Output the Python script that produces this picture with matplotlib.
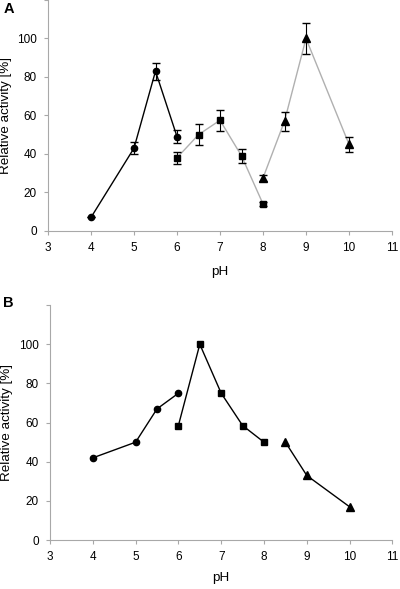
import matplotlib.pyplot as plt
import numpy as np

plt.rcParams['font.family'] = ['Liberation Sans', 'DejaVu Sans']
plt.rcParams['font.size'] = 9

# Panel A data
a_ph_circ = [4, 5, 5.5, 6]
a_act_circ = [7, 43, 83, 49]
a_err_circ = [0, 3, 4.5, 3.5]
a_ph_sq = [6, 6.5, 7, 7.5, 8]
a_act_sq = [38, 50, 57.5, 39, 14]
a_err_sq = [3, 5.5, 5.5, 3.5, 1]
a_ph_tri = [8, 8.5, 9, 10]
a_act_tri = [27.5, 57, 100, 45]
a_err_tri = [1.5, 5, 8, 4]

# Panel B data
b_ph_circ = [4, 5, 5.5, 6]
b_act_circ = [42, 50, 67, 75]
b_ph_sq = [6, 6.5, 7, 7.5, 8]
b_act_sq = [58.5, 100, 75, 58.5, 50]
b_ph_tri = [8.5, 9, 10]
b_act_tri = [50, 33, 17]

fig = plt.figure(figsize=(4, 5.89), dpi=100)
axA = fig.add_axes([0.12, 0.608, 0.86, 0.392])
axB = fig.add_axes([0.125, 0.083, 0.856, 0.399])

def style(ax, ylab_x, xlab_y):
    ax.set_xlim(3, 11)
    ax.set_ylim(0, 120)
    ax.set_xticks(np.arange(3, 12))
    ax.set_yticks(np.arange(0, 121, 20))
    ax.set_yticklabels([str(v) for v in range(0, 101, 20)] + [''])
    for s in ['top', 'right']:
        ax.spines[s].set_visible(False)
    for s in ['left', 'bottom']:
        ax.spines[s].set_color('#a8a8a8')
        ax.spines[s].set_linewidth(0.8)
    ax.tick_params(direction='out', length=3, color='#a8a8a8', width=0.8,
                   labelsize=8.5, pad=5)
    ax.set_xlabel('pH', fontsize=9.7)
    ax.set_ylabel('Relative activity [%]', fontsize=9.7)
    ax.yaxis.set_label_coords(ylab_x, 0.5)
    ax.xaxis.set_label_coords(0.5, xlab_y)

# Panel A
axA.errorbar(a_ph_circ, a_act_circ, yerr=a_err_circ, fmt='-o', color='black', ecolor='black',
             lw=1.0, elinewidth=0.8, capsize=3, ms=4.5, zorder=3)
axA.plot(a_ph_sq, a_act_sq, '-', color='#b0b0b0', lw=1.0, zorder=2)
axA.errorbar(a_ph_sq, a_act_sq, yerr=a_err_sq, fmt='s', color='black', ecolor='black',
             elinewidth=0.8, capsize=3, ms=4.5, zorder=3)
axA.plot(a_ph_tri, a_act_tri, '-', color='#b0b0b0', lw=1.0, zorder=2)
axA.errorbar(a_ph_tri, a_act_tri, yerr=a_err_tri, fmt='^', color='black', ecolor='black',
             elinewidth=0.8, capsize=3, ms=5.5, zorder=3)
style(axA, -0.105, -0.15)

# Panel B
axB.plot(b_ph_circ, b_act_circ, '-o', color='black', lw=1.0, ms=4.5)
axB.plot(b_ph_sq, b_act_sq, '-s', color='black', lw=1.0, ms=4.5)
axB.plot(b_ph_tri, b_act_tri, '-^', color='black', lw=1.0, ms=5.5)
style(axB, -0.108, -0.135)

fig.text(0.008, 0.997, 'A', fontsize=10.5, fontweight='bold', va='top')
fig.text(0.008, 0.497, 'B', fontsize=10.5, fontweight='bold', va='top')

fig.savefig('out.png', dpi=100)
